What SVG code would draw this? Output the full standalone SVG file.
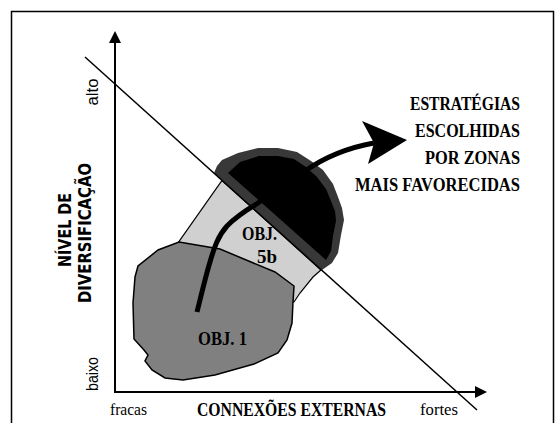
<svg xmlns="http://www.w3.org/2000/svg" width="556" height="423" viewBox="0 0 556 423">
<style>
.serifb{font-family:"Liberation Serif","Times New Roman",serif;font-weight:bold;font-size:18px;fill:#000}
.serif{font-family:"Liberation Serif","Times New Roman",serif;font-size:17px;fill:#000}
.sansl{font-family:"Liberation Sans",Arial,sans-serif;font-size:16px;fill:#000}
.sansb{font-family:"DejaVu Sans Condensed","DejaVu Sans",sans-serif;font-stretch:condensed;font-weight:bold;font-size:17px;fill:#000}
.edge{fill:none;stroke:#000}
</style>
<rect x="11.5" y="11.5" width="542" height="430" fill="#fff" stroke="#000" stroke-width="1.5"/>
<g id="zone-5b">
<polygon points="222,180.5 321,270 313,277 300,293 294,302 250,300 178,243" fill="#d0d0d0" stroke="#000" stroke-width="1.2"/>
<text class="serifb" x="242" y="240" textLength="35" lengthAdjust="spacingAndGlyphs">OBJ.</text>
<text class="serifb" x="257" y="263" textLength="20" lengthAdjust="spacingAndGlyphs">5b</text>
</g>
<g id="zone-1">
<polygon points="179,242 220,249 251,262 275,272 294,286 293,302 292,323 287,340 278,353 254,364 215,375 183,380 165,378 152,370 145,361 148,355 144,350 134,339 133,303 135,277 138,266 158,250" fill="#808080" stroke="#000" stroke-width="1.5"/>
<text class="serifb" x="198" y="345" textLength="49" lengthAdjust="spacingAndGlyphs">OBJ. 1</text>
</g>
<g id="zone-favorecida">
<polygon points="214,173 217,166 222,160 238,153 258,148 278,148 297,152 311,161 323,170 333,184 338,197 342,208 344,220 341,235 338,253 332,263 322,270" fill="#383838"/>
<polygon points="228,173 240,162 259,156 278,156 294,159 306,167 317,177 326,189 331,201 335,211 336,221 333,236 331,251 326,260" fill="#000"/>
</g>
<g id="connectors">
<line class="edge" x1="85" y1="57" x2="477" y2="410" stroke-width="1.5"/>
<line class="edge" x1="115" y1="393" x2="115" y2="40" stroke-width="2"/>
<polygon points="115,31 121,43 109,43" fill="#000"/>
<line class="edge" x1="114" y1="392" x2="478" y2="392" stroke-width="2"/>
<polygon points="487,392 475,386 475,398" fill="#000"/>
<path class="edge" d="M197,312 C202,292 206,275 210,262 C214,248 218,236 227,226 C235,218 245,211 255,205 L305,171 Q335,150 374,143" stroke-width="5"/>
<polygon points="362,121 407,140 368,164 374,143" fill="#000"/>
</g>
<g id="labels">
<text class="serifb" x="410" y="110" textLength="110" lengthAdjust="spacingAndGlyphs">ESTRATÉGIAS</text>
<text class="serifb" x="415" y="137" textLength="105" lengthAdjust="spacingAndGlyphs">ESCOLHIDAS</text>
<text class="serifb" x="425" y="164" textLength="95" lengthAdjust="spacingAndGlyphs">POR ZONAS</text>
<text class="serifb" x="355" y="191" textLength="165" lengthAdjust="spacingAndGlyphs">MAIS FAVORECIDAS</text>
<text class="serifb" x="197" y="416" textLength="189" lengthAdjust="spacingAndGlyphs">CONNEXÕES EXTERNAS</text>
<text class="serif" x="110" y="415" textLength="37" lengthAdjust="spacingAndGlyphs">fracas</text>
<text class="serif" x="420" y="415" textLength="38" lengthAdjust="spacingAndGlyphs">fortes</text>
<text class="sansl" text-anchor="middle" transform="translate(98,92) rotate(-90)" textLength="27" lengthAdjust="spacingAndGlyphs">alto</text>
<text class="sansl" text-anchor="middle" transform="translate(98,374) rotate(-90)" textLength="34" lengthAdjust="spacingAndGlyphs">baixo</text>
<text class="sansb" text-anchor="middle" transform="translate(71,230) rotate(-90)" textLength="74" lengthAdjust="spacingAndGlyphs">NÍVEL DE</text>
<text class="sansb" text-anchor="middle" transform="translate(91,233) rotate(-90)" textLength="140" lengthAdjust="spacingAndGlyphs">DIVERSIFICAÇÃO</text>
</g>
</svg>
